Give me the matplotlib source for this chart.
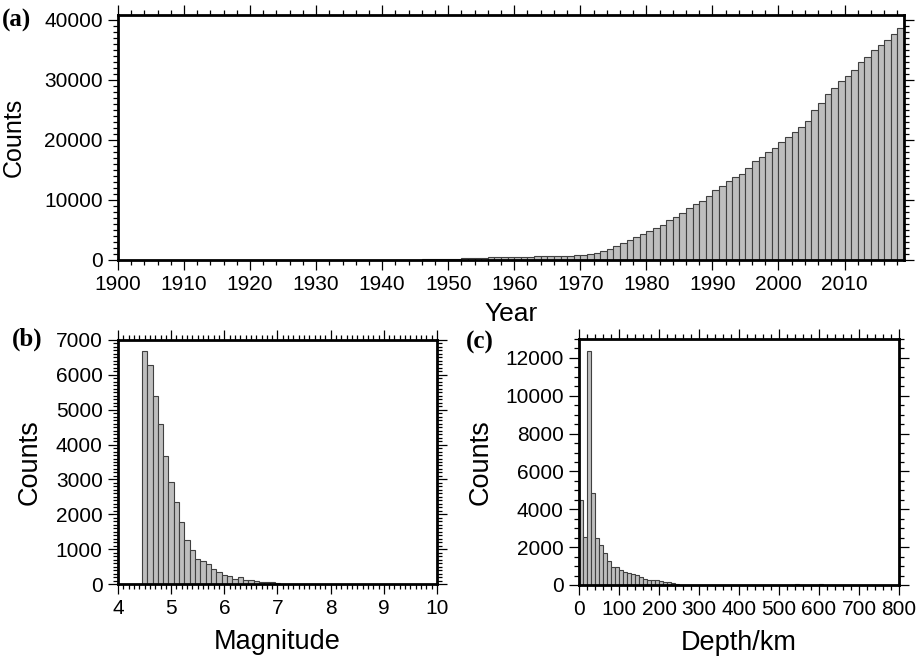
import matplotlib
matplotlib.use("Agg")
import matplotlib.pyplot as plt
from matplotlib.ticker import MultipleLocator

# (a) cumulative event counts per year, 1942-2018 (zero before 1942)
years = list(range(1942, 2019))
year_counts = [
    30, 45, 60, 75, 90, 105, 125, 145, 170,             # 1942-1950
    230, 290, 330, 370, 400, 430, 450, 460, 480, 500,   # 1951-1960
    530, 560, 590, 620, 650, 670, 700, 730, 760, 800,   # 1961-1970
    1000, 1100, 1550, 1900, 2300, 2900, 3300, 3800, 4300, 4900,         # 1971-1980
    5300, 5800, 6600, 7200, 7800, 8700, 9300, 9900, 10700, 11600,       # 1981-1990
    12400, 13100, 13800, 14400, 15400, 16500, 17200, 17900, 18600, 19600,  # 1991-2000
    20400, 21300, 22200, 23100, 25000, 26200, 27600, 28600, 29800, 30700,  # 2001-2010
    31700, 32900, 33800, 34900, 35800, 36700, 37600, 38600,             # 2011-2018
]

# (b) magnitude histogram, bins of 0.1 centred on 4.5 ... 7.0
mag_centres = [4.5, 4.6, 4.7, 4.8, 4.9, 5.0, 5.1, 5.2, 5.3, 5.4, 5.5, 5.6, 5.7,
               5.8, 5.9, 6.0, 6.1, 6.2, 6.3, 6.4, 6.5, 6.6, 6.7, 6.8, 6.9, 7.0]
mag_counts = [6690, 6290, 5380, 4590, 3660, 2940, 2340, 1770, 1260, 985, 725,
              650, 580, 440, 355, 270, 240, 150, 190, 105, 105, 80, 70, 60, 45, 35]

# (c) depth histogram, 10 km bins (left edges)
depth_edges = [0, 10, 20, 30, 40, 50, 60, 70, 80, 90, 100, 110, 120, 130, 140,
               150, 160, 170, 180, 190, 200, 210, 220, 230, 240, 540, 600]
depth_counts = [4500, 2520, 12350, 4880, 2460, 2110, 1670, 1250, 970, 970, 790,
                700, 650, 580, 545, 440, 335, 280, 245, 280, 195, 175, 160, 90,
                55, 40, 60]

FILL = "#bebebe"
EDGE = "#404040"

plt.rcParams["font.family"] = "Liberation Sans"
plt.rcParams["font.size"] = 15

fig = plt.figure(figsize=(9.21, 6.57), dpi=100)


def style_frame(ax, xmaj, xmin, ymaj, ymin):
    for s in ax.spines.values():
        s.set_linewidth(2.0)
    ax.xaxis.set_major_locator(MultipleLocator(xmaj))
    ax.xaxis.set_minor_locator(MultipleLocator(xmin))
    ax.yaxis.set_major_locator(MultipleLocator(ymaj))
    ax.yaxis.set_minor_locator(MultipleLocator(ymin))
    ax.tick_params(which="both", direction="out", top=True, right=True,
                   labeltop=False, labelright=False, width=0.9, labelsize=15)
    ax.tick_params(which="major", length=7, pad=4)
    ax.tick_params(which="minor", length=3.5)


# panel (a)
ax_a = fig.add_axes([0.1281, 0.6043, 0.8534, 0.3729])
ax_a.bar(years, year_counts, width=1.0, align="edge", color=FILL,
         edgecolor=EDGE, linewidth=0.8)
ax_a.set_xlim(1900, 2019)
ax_a.set_ylim(0, 40800)
style_frame(ax_a, 10, 2, 10000, 1000)
ax_a.set_xlabel("Year", fontsize=19, va="top")
ax_a.set_ylabel("Counts", fontsize=18)
ax_a.xaxis.set_label_coords(0.5, -0.172)
ax_a.yaxis.set_label_coords(-0.117, 0.5)

# panel (b)
ax_b = fig.add_axes([0.1281, 0.1111, 0.3464, 0.3714])
ax_b.bar(mag_centres, mag_counts, width=0.1, color=FILL,
         edgecolor=EDGE, linewidth=0.8)
ax_b.set_xlim(4, 10)
ax_b.set_ylim(0, 7000)
style_frame(ax_b, 1, 0.1, 1000, 100)
ax_b.set_xlabel("Magnitude", fontsize=19.5, va="top")
ax_b.set_ylabel("Counts", fontsize=19.5)
ax_b.xaxis.set_label_coords(0.5, -0.185)
ax_b.yaxis.set_label_coords(-0.236, 0.5)

# panel (c)
ax_c = fig.add_axes([0.6287, 0.1096, 0.3474, 0.3744])
ax_c.bar(depth_edges, depth_counts, width=10, align="edge", color=FILL,
         edgecolor=EDGE, linewidth=0.8)
ax_c.set_xlim(0, 800)
ax_c.set_ylim(0, 13000)
style_frame(ax_c, 100, 20, 2000, 500)
ax_c.set_xlabel("Depth/km", fontsize=19.5, va="top")
ax_c.set_ylabel("Counts", fontsize=19.5)
ax_c.xaxis.set_label_coords(0.5, -0.183)
ax_c.yaxis.set_label_coords(-0.266, 0.5)

# panel letters
letter_font = dict(family="Liberation Serif", weight="bold", fontsize=18, va="top")
fig.text(2 / 921, 1 - 9 / 657, "(a)", **letter_font)
fig.text(12 / 921, 1 - 328 / 657, "(b)", **letter_font)
fig.text(466 / 921, 1 - 331 / 657, "(c)", **letter_font)

fig.savefig("out.png", dpi=100)
